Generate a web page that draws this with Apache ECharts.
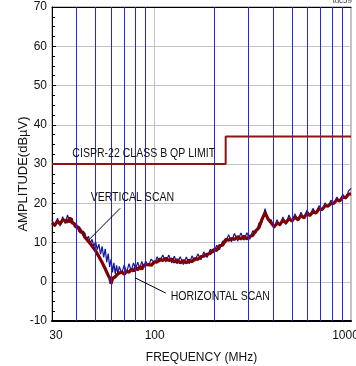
<!DOCTYPE html>
<html><head><meta charset="utf-8">
<script src="https://cdn.jsdelivr.net/npm/echarts@6/dist/echarts.min.js"></script>
<style>html,body{margin:0;padding:0;background:#fff}#c{width:356px;height:366px}</style>
</head><body><div id="c"></div>
<script>
// ---- data ----
const freqs = [30,31,32,33,34,35,36,37,38,39,40,41,42,43,44,45,46,47,48,49,50,51,52,53,54,55,56,57,58,59,60,61,62,63,64,65,66,68,70,72,74,76,78,80,82,84,86,88,90,93,96,100,103,106,110,114,118,122,126,130,135,140,145,150,155,160,166,172,178,185,192,200,207,214,222,230,238,246,255,265,275,285,295,305,316,328,340,352,365,378,392,406,420,435,450,466,483,500,518,537,556,576,597,618,640,663,687,712,737,763,790,818,847,877,908,940,970,1000];
const horizontalScan = [15.0,14.4,15.5,14.7,15.8,15.6,15.2,16.3,15.0,14.8,13.8,13.9,12.6,12.7,11.4,11.4,10.3,10.3,9.1,9.2,7.9,7.7,6.4,6.2,4.9,4.7,3.3,2.8,1.6,1.0,-0.5,0.8,1.0,1.3,1.5,2.0,1.9,2.5,1.9,2.7,2.4,3.2,2.7,3.6,3.0,3.9,3.2,4.2,3.7,4.4,4.2,5.1,5.0,5.8,5.4,6.0,5.4,5.8,5.0,5.6,4.8,5.4,4.8,5.5,5.1,5.9,5.7,6.4,6.5,7.0,7.2,8.2,8.0,9.2,9.3,10.8,10.6,11.0,10.8,11.5,10.9,11.6,10.9,11.6,11.8,13.0,13.8,15.9,17.6,16.0,15.0,14.0,14.9,14.6,15.7,15.0,16.1,15.5,16.5,15.8,16.9,16.3,17.5,16.9,17.9,17.5,18.6,18.4,19.3,19.3,19.9,20.0,20.9,20.6,21.6,21.4,22.3,22.4];
const verticalScan = [15.8,14.0,16.2,14.2,16.6,14.8,17.0,15.0,16.2,13.9,14.8,12.8,13.6,11.8,12.5,10.8,11.6,9.8,10.8,9.0,10.2,8.2,9.6,7.0,9.0,6.2,8.4,5.0,7.2,3.8,5.8,2.4,4.8,2.0,4.2,1.8,3.9,2.2,4.3,2.4,4.6,2.8,4.8,3.2,5.0,3.4,5.2,3.6,5.3,4.0,5.8,4.6,6.4,5.0,6.8,5.0,6.8,4.8,6.5,4.6,6.4,4.4,6.3,4.6,6.6,5.2,7.1,5.6,7.6,6.2,8.3,7.4,9.3,8.2,10.4,9.9,12.0,10.2,12.3,10.4,12.4,10.6,12.5,10.8,13.0,12.4,15.0,15.2,18.6,15.8,15.8,13.6,15.8,14.2,16.5,14.6,17.0,15.2,17.3,15.5,17.7,16.0,18.3,16.7,18.7,17.3,19.4,18.1,20.1,19.0,20.8,19.7,21.6,20.4,22.3,21.1,23.1,23.8];
const limitFreqs = [30, 230, 230, 1000];
const limitValues = [30, 30, 37, 37];
const blueGridFreqs = [40,50,60,70,80,90,200,300,400,500,600,700,800,900];
const yMin = -10, yMax = 70, yStep = 10;
const xMin = 30, xMax = 1000;
// annotations: [text, freq, dB]
const textNotes = [
  ['CISPR-22 CLASS B QP LIMIT', 88, 32.6],
  ['VERTICAL SCAN', 77, 21.4],
  ['HORIZONTAL SCAN', 216, -3.8]
];
// arrows: [fromFreq, fromDb, toFreq, toDb]
const arrows = [
  [66.7, 18.7, 46.5, 10.8],
  [114, -2.9, 79.5, 1.0]
];

const FONT = "'Liberation Sans',Arial,sans-serif";
const pair = (xs, ys) => xs.map((x, i) => [x, ys[i]]);

const chart = echarts.init(document.getElementById('c'), null, {renderer: 'canvas'});
const option = {
  animation: false,
  backgroundColor: '#fff',
  grid: {left: 52, right: 5, top: 7, bottom: 45, show: true, borderColor: '#888', borderWidth: 1,
         containLabel: false, outerBoundsMode: 'none'},
  xAxis: [{
    type: 'log', logBase: 10, min: xMin, max: xMax,
    name: 'FREQUENCY (MHz)', nameLocation: 'middle', nameGap: 31, nameMoveOverlap: false,
    nameTextStyle: {fontFamily: FONT, fontSize: 12, color: '#111'},
    axisLine: {show: true, onZero: false, lineStyle: {color: '#000', width: 2}},
    axisTick: {show: false},
    axisLabel: {
      fontFamily: FONT, fontSize: 12, color: '#111', margin: 9,
      formatter: v => {
        const r = Math.round(v);
        if (r === xMin) return '{a|' + r + '}';
        if (r === xMax) return '{b|' + r + '}';
        return String(r);
      },
      rich: {
        a: {fontFamily: FONT, fontSize: 12, color: '#111', padding: [0, 0, 0, 8]},
        b: {fontFamily: FONT, fontSize: 12, color: '#111', padding: [0, 11, 0, 0]}
      }
    },
    splitLine: {show: true, lineStyle: {color: '#c4c4c4', width: 1}}
  }, {
    type: 'log', logBase: 10, min: xMin, max: xMax, position: 'top',
    axisLine: {show: true, onZero: false, lineStyle: {color: '#000', width: 1}},
    axisTick: {show: false}, axisLabel: {show: false}, splitLine: {show: false}
  }],
  yAxis: {
    type: 'value', min: yMin, max: yMax, interval: yStep,
    name: 'AMPLITUDE(dBµV)', nameLocation: 'middle', nameGap: 22, nameMoveOverlap: false,
    nameTextStyle: {fontFamily: FONT, fontSize: 13, color: '#111', padding: [0, 20, 0, 0]},
    axisLine: {show: true, onZero: false, lineStyle: {color: '#000', width: 1}},
    axisTick: {show: true, inside: true, length: 4, lineStyle: {color: '#000'}},
    minorTick: {show: true, splitNumber: 4, length: 3, lineStyle: {color: '#000'}},
    axisLabel: {fontFamily: FONT, fontSize: 12, color: '#111', margin: 5},
    splitLine: {show: true, lineStyle: {color: '#c4c4c4', width: 1}}
  },
  series: [
    {
      type: 'line', data: [], z: 1, silent: true,
      markLine: {
        silent: true, symbol: ['none', 'none'], animation: false,
        label: {show: false},
        lineStyle: {color: '#2424f4', width: 1, type: 'solid'},
        data: blueGridFreqs.map(f => ({xAxis: f}))
      }
    },
    {
      name: 'Vertical', type: 'line', data: pair(freqs, verticalScan), z: 3,
      symbol: 'none', lineStyle: {color: '#12129a', width: 1.2}
    },
    {
      name: 'Horizontal', type: 'line', data: pair(freqs, horizontalScan), z: 4,
      symbol: 'none', lineStyle: {color: '#800000', width: 3.2}
    },
    {
      name: 'Limit', type: 'line', data: pair(limitFreqs, limitValues), z: 5,
      symbol: 'none', lineStyle: {color: '#8b1414', width: 2},
      markLine: {
        silent: true, symbol: ['none', 'arrow'], symbolSize: [0, 7], animation: false,
        label: {show: false},
        lineStyle: {color: '#000', width: 1, type: 'solid'},
        data: arrows.map(a => [{coord: [a[0], a[1]]}, {coord: [a[2], a[3]]}])
      }
    }
  ]
};
chart.setOption(option);

const g = textNotes.map(t => {
  const p = chart.convertToPixel({xAxisIndex: 0, yAxisIndex: 0}, [t[1], t[2]]);
  return {type: 'text', x: p[0], y: p[1], z: 100, scaleX: 0.81,
    style: {text: t[0], fill: '#111', font: '13px ' + FONT, textAlign: 'center', textVerticalAlign: 'middle'}};
});
g.push({type: 'text', right: 4, top: -3, z: 100,
  style: {text: 'tdc59', fill: '#444', font: '8px ' + FONT}});
chart.setOption({graphic: g});
</script>
</body></html>
